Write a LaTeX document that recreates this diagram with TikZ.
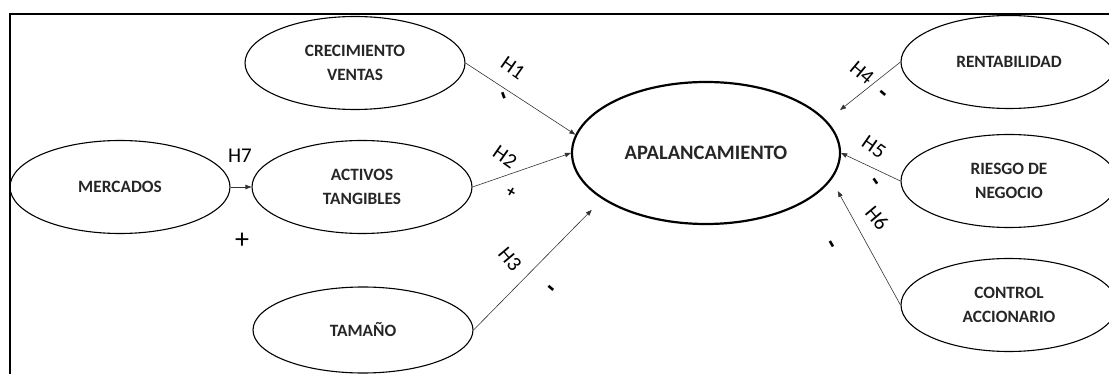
\documentclass[tikz,border=0pt]{standalone}
\usepackage{fontspec}
\setmainfont{Carlito}
\usetikzlibrary{arrows.meta,positioning,shapes.geometric}

\begin{document}
\begin{tikzpicture}[x=1pt,y=-1pt,
    var/.style={draw, ellipse, line width=1.1pt, inner sep=0pt, align=center,
        minimum width=220pt, minimum height=93pt,
        font=\fontsize{17.3}{24}\selectfont\bfseries, text=black!85},
    hyp/.style={-{Triangle[length=6pt,width=4.5pt]}, line width=0.6pt, black!80},
    hlab/.style={inner sep=0pt, font=\fontsize{21}{24}\selectfont},
    sgn/.style={inner sep=0pt, font=\fontsize{26}{26}\selectfont\bfseries}]

\useasboundingbox (0,0) rectangle (1109,374);

% Frame (only top and left edges are visible)
\draw[line width=2pt] (10,374) -- (10,14) -- (1109,14);

% Dependent variable
\node[var, line width=2.2pt, minimum width=268pt, minimum height=142pt,
    font=\fontsize{20.5}{25}\selectfont\bfseries] (apal) at (706,153) {APALANCAMIENTO};

% Determinants on the left
\node[var] (crec) at (355,63) {CRECIMIENTO\\VENTAS};
\node[var] (merc) at (120,187) {MERCADOS};
\node[var] (act) at (362,187) {ACTIVOS\\TANGIBLES};
\node[var, minimum height=86pt] (tam) at (363,330) {TAMAÑO};

% Determinants on the right
\node[var, minimum width=216pt] (rent) at (1009,62) {RENTABILIDAD};
\node[var, minimum width=216pt] (ries) at (1009,181) {RIESGO DE\\NEGOCIO};
\node[var, minimum width=216pt] (ctrl) at (1009,305) {CONTROL\\ACCIONARIO};

% Hypotheses
\draw[hyp] (merc.east) -- (act.west);
\draw[hyp] (crec.east) -- (apal.172);
\draw[hyp] (act.east) -- (apal.west);
\draw[hyp, shorten >=15pt] (tam.east) -- (apal.204);
\draw[hyp, shorten >=17pt] (rent.west) -- (apal.15);
\draw[hyp] (ries.west) -- (apal.east);
\draw[hyp, shorten >=13pt] (ctrl.west) -- (apal.-12);

% Labels and signs
\node[hlab] (h7) at (240,156) {H7};
\node[inner sep=0pt, font=\fontsize{28}{28}\selectfont] (s7) at (242,241) {+};
\foreach \n/\x/\y/\r in {h1/513/68/-35, h2/505/157/-35, h3/510/259/-50,
                         h4/862/73/-40, h5/874/147/-35, h6/877/218/-50} {
    \node[hlab, rotate=\r] (\n) at (\x,\y) {\MakeUppercase{\n}};
}
\foreach \n/\x/\y/\r in {s1/501/97/-70, s4/881/96/-40, s5/873/183/-55,
                         s3/549/291/-40, s6/829/246/-60} {
    \node[sgn, rotate=\r] (\n) at (\x,\y) {-};
}
\node[inner sep=0pt, font=\fontsize{17}{17}\selectfont\bfseries, rotate=-30] (s2) at (511,193) {+};

\end{tikzpicture}
\end{document}
